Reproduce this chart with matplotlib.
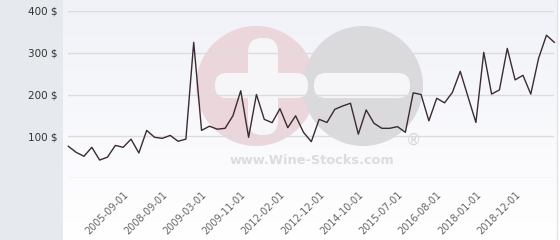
import numpy as np
import matplotlib.pyplot as plt
from matplotlib.patches import Circle, FancyBboxPatch, Rectangle

# price per point (categorical x axis, one point per quote date)
prices = [76, 61.5, 52, 73.5, 43, 50, 78, 73.5, 93, 60,
          114, 97.5, 95, 102, 88, 93, 325, 114, 124, 117,
          119, 149, 209, 97.5, 200, 140.5, 132.5, 166, 120.5, 149,
          109.5, 87, 140.5, 133, 164.5, 172.5, 179, 105, 163, 131,
          119, 119, 123, 109.5, 204, 200, 137, 191, 180, 205,
          255.5, 194, 133, 301, 201, 211, 310.5, 235, 246, 201,
          287, 342, 325]
tick_idx = [7, 12, 17, 22, 27, 32, 37, 42, 47, 52, 57]
tick_labels = ["2005-09-01", "2008-09-01", "2009-03-01", "2009-11-01",
               "2012-02-01", "2012-12-01", "2014-10-01", "2015-07-01",
               "2016-08-01", "2018-01-01", "2018-12-01"]
y_ticks = [100, 200, 300, 400]

W, H = 560, 240
fig = plt.figure(figsize=(W / 100, H / 100), dpi=100)

# background + watermark, drawn in pixel coordinates
bg = fig.add_axes([0, 0, 1, 1], zorder=0)
bg.set_xlim(0, W)
bg.set_ylim(H, 0)
bg.axis("off")
grad = np.linspace(0, 1, 100)[:, None]
top, bot = np.array([241, 242, 248]) / 255, np.array([255, 255, 255]) / 255
img = top[None, None, :] * (1 - grad[..., None]) + bot[None, None, :] * grad[..., None]
bg.imshow(img, extent=(63, 557, 240, 0), aspect="auto")
bg.add_patch(Rectangle((0, 0), 62.5, H, color="#e6e9ed", lw=0))
bg.plot([556.5, 556.5], [0, H], color="#e2e3e8", lw=1)

bg.add_patch(Circle((256, 86), 60, color="#ead6db", lw=0))
bg.add_patch(Circle((363, 86), 60, color="#dadadc", lw=0))
bg.add_patch(FancyBboxPatch((248, 38), 30, 97, boxstyle="round,pad=0,rounding_size=14",
                            color="#f6f6f9", lw=0))
bg.add_patch(FancyBboxPatch((215, 73), 93, 25, boxstyle="round,pad=0,rounding_size=12",
                            color="#f6f6f9", lw=0))
bg.add_patch(FancyBboxPatch((314, 73), 96, 25, boxstyle="round,pad=0,rounding_size=12",
                            color="#f6f6f9", lw=0))
bg.text(312, 161, "www.Wine-Stocks.com", ha="center", va="center",
        fontsize=9.3, fontweight="bold", color="#dcdcdf", family="DejaVu Sans")
bg.text(413, 140, "®", ha="center", va="center", fontsize=11,
        color="#d5d5d8", family="DejaVu Sans")

# main chart
x0, x1 = 68.3, 554.3
y0, y1 = 178, 11
ax = fig.add_axes([x0 / W, (H - y0) / H, (x1 - x0) / W, (y0 - y1) / H], zorder=1)
ax.set_facecolor("none")
x = np.arange(len(prices))
ax.plot(x, prices, color="#3b2a33", lw=1, clip_on=False, zorder=3)
ax.set_xlim(0, len(prices) - 1)
ax.set_ylim(0, 400)

ax.set_yticks([0] + y_ticks)
ax.set_yticklabels([""] + [f"{v} $" for v in y_ticks])
ax.grid(axis="y", color="#dcdcdf", lw=1)
ax.set_axisbelow(True)
ax.set_xticks(tick_idx)
ax.set_xticklabels(tick_labels, rotation=45, ha="right", rotation_mode="anchor",
                   fontsize=7, color="#666666")
ax.tick_params(axis="x", length=0, pad=8.5)
ax.tick_params(axis="y", length=0, pad=8, labelsize=7.5, labelcolor="#333333")
for s in ax.spines.values():
    s.set_visible(False)

fig.savefig("out.png", dpi=100)
